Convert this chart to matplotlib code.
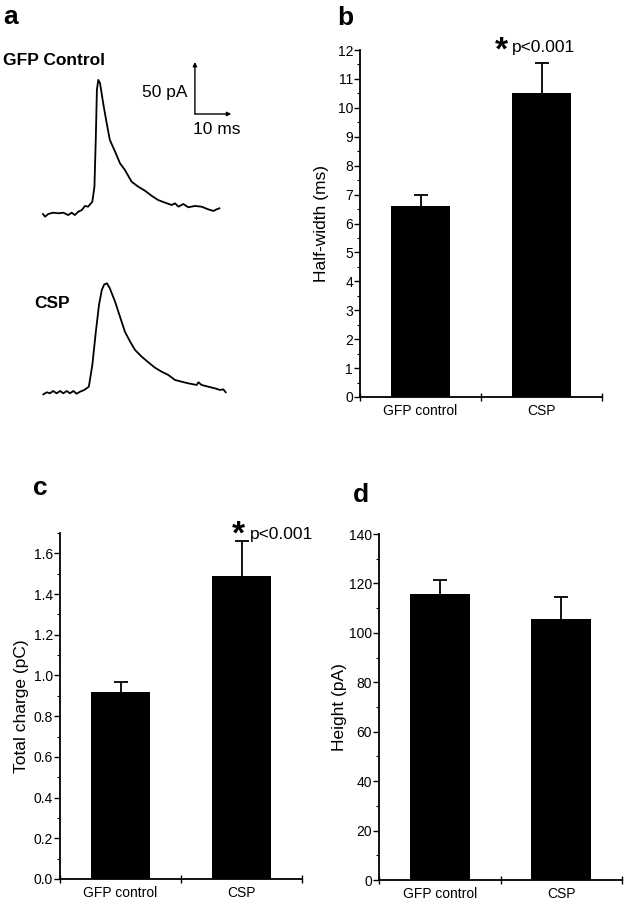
import numpy as np
import matplotlib.pyplot as plt
from matplotlib.ticker import MultipleLocator

plt.rcParams['font.family'] = ['Liberation Sans', 'DejaVu Sans']

# ---- panel a traces (time in ms, current in pA above baseline) ----
t_gfp = [0, 0.6, 1.5, 2.9, 4.4, 5.8, 7.2, 8.2, 9.1, 10.1, 11.1, 12.0, 12.9, 14.1,
         14.7, 15.1, 15.4, 15.8, 16.3, 17.2, 18.2, 19.1, 20.6, 22.0, 23.4, 25.3,
         27.2, 29.1, 31.1, 32.9, 34.9, 36.8, 37.7, 38.7, 40.1, 41.5, 43.4, 45.3,
         47.2, 48.7, 49.6, 50.4]
i_gfp = [-1, -3.6, -1, 0.3, -0.3, 0.3, -2, 0.3, -2, 1.3, 2.9, 6.9, 6.2, 11.1,
         25.8, 74.8, 120.6, 130.4, 127.2, 107.5, 87.9, 71.6, 60.1, 48.7, 42.2, 30.7,
         25.8, 21.9, 16.7, 12.7, 10.1, 7.8, 9.5, 6.2, 8.8, 5.6, 6.9, 6.2,
         3.6, 2.0, 3.6, 4.6]

t_csp = [0.1, 1.1, 2.0, 2.9, 3.9, 4.9, 5.8, 6.8, 7.7, 8.7, 9.6, 10.6, 11.8, 13.1,
         14.1, 15.1, 16.0, 16.8, 17.5, 18.3, 19.1, 20.6, 22.0, 23.4, 24.9, 26.3,
         28.2, 30.1, 32.0, 33.9, 35.8, 37.7, 39.6, 41.5, 43.9, 44.4, 45.3, 47.2,
         49.1, 50.6, 51.5, 52.2]
i_csp = [-1.8, 0.2, -0.8, 1.5, -0.8, 1.5, -0.8, 1.5, -0.8, 1.5, -1.2, 0.8, 2.5, 5.7,
         27.0, 59.6, 85.8, 100.5, 106.0, 107.0, 102.1, 89.0, 74.3, 59.6, 49.8, 41.7,
         35.1, 29.6, 24.3, 20.4, 17.2, 12.3, 10.6, 9.0, 7.4, 10.0, 7.4, 5.7,
         4.1, 2.5, 3.1, 0.2]

scale_t = 10   # ms
scale_i = 50   # pA

# ---- bar panels ----
groups = ['GFP control', 'CSP']
halfwidth_mean = [6.6, 10.5]
halfwidth_err = [0.37, 1.05]
charge_mean = [0.92, 1.49]
charge_err = [0.05, 0.17]
height_mean = [115.6, 105.8]
height_err = [5.7, 8.6]

W, H = 626, 900


def fx(x):
    return x / W


def fy(y):
    return 1 - y / H


fig = plt.figure(figsize=(W / 100, H / 100), dpi=100)

# traces, both axes share the same ms/pA scale
axg = fig.add_axes([fx(30), fy(225), fx(220), 170 / H])
axg.plot(t_gfp, i_gfp, color='black', lw=1.3)
axg.set_xlim(-3.71, 59.14)
axg.set_ylim(-11.76, 154.8)
axg.axis('off')
bx, by = 43.4, 97
axg.annotate('', xy=(bx, by + scale_i + 1), xytext=(bx, by),
             arrowprops=dict(arrowstyle='-|>', lw=1, color='black', mutation_scale=6,
                             shrinkA=0, shrinkB=0))
axg.annotate('', xy=(bx + scale_t + 0.4, by), xytext=(bx, by),
             arrowprops=dict(arrowstyle='-|>', lw=1, color='black', mutation_scale=6,
                             shrinkA=0, shrinkB=0))

axc_tr = fig.add_axes([fx(30), fy(400), fx(220), 125 / H])
axc_tr.plot(t_csp, i_csp, color='black', lw=1.3)
axc_tr.set_xlim(-3.71, 59.14)
axc_tr.set_ylim(-7.35, 115.2)
axc_tr.axis('off')

fig.text(fx(187), fy(93), '50 pA', fontsize=12.5, ha='right', va='center')
fig.text(fx(193), fy(130), '10 ms', fontsize=12.5, ha='left', va='center')
fig.text(fx(3), fy(65), 'GFP Control', fontsize=12.5, fontweight='bold', va='baseline')
fig.text(fx(34), fy(308), 'CSP', fontsize=12.5, fontweight='bold', va='baseline')


def bar_panel(rect, means, errs, ylim, major, minor, ylabel):
    ax = fig.add_axes(rect)
    xpos = [0.5, 1.5]
    ax.bar(xpos, means, width=0.49, color='black')
    eb = ax.errorbar(xpos, means, yerr=[[0, 0], errs], fmt='none', ecolor='black',
                     elinewidth=1.3, capsize=4.7, capthick=1.3)
    # only the upper cap is drawn in the original
    for cap in eb[1]:
        if np.allclose(cap.get_ydata(), means):
            cap.set_visible(False)
    ax.set_xlim(0, 2)
    ax.set_ylim(*ylim)
    ax.spines['top'].set_visible(False)
    ax.spines['right'].set_visible(False)
    ax.spines['left'].set_linewidth(1.3)
    ax.spines['bottom'].set_linewidth(1.3)
    ax.set_xticks([0, 1, 2])
    ax.set_xticklabels([])
    ax.set_xticks(xpos, minor=True)
    ax.set_xticklabels(groups, minor=True)
    ax.tick_params(axis='x', which='major', direction='inout', length=6, width=1)
    ax.tick_params(axis='x', which='minor', length=0, labelsize=10, pad=5)
    ax.yaxis.set_major_locator(MultipleLocator(major))
    ax.yaxis.set_minor_locator(MultipleLocator(minor))
    ax.tick_params(axis='y', which='major', direction='out', length=4, width=1,
                   labelsize=10, pad=1)
    ax.tick_params(axis='y', which='minor', direction='out', length=2, width=0.8)
    ax.set_ylabel(ylabel, fontsize=12.5)
    ax.yaxis.set_label_coords(-0.13, 0.5)
    return ax


axb = bar_panel([fx(360), fy(397), fx(242), 347 / H], halfwidth_mean, halfwidth_err,
                (0, 12), 1, 0.5, 'Half-width (ms)')
axb.yaxis.set_major_formatter(plt.FormatStrFormatter('%d'))
axb.text(1.17, 11.95, '*', fontsize=24, fontweight='bold', ha='center', va='center',
         clip_on=False)
axb.text(1.256, 12.07, 'p<0.001', fontsize=12.5, ha='left', va='center', clip_on=False)

axc = bar_panel([fx(60), fy(879), fx(242), 346 / H], charge_mean, charge_err,
                (0, 1.7), 0.2, 0.1, 'Total charge (pC)')
axc.yaxis.set_major_formatter(plt.FormatStrFormatter('%.1f'))
axc.text(1.471, 1.69, '*', fontsize=24, fontweight='bold', ha='center', va='center',
         clip_on=False)
axc.text(1.57, 1.694, 'p<0.001', fontsize=12.5, ha='left', va='center', clip_on=False)

axd = bar_panel([fx(379), fy(880), fx(243), 346 / H], height_mean, height_err,
                (0, 140), 20, 10, 'Height (pA)')

for lab, x, y in [('a', 3, 24), ('b', 337, 25), ('c', 33, 495), ('d', 353, 502)]:
    fig.text(fx(x), fy(y), lab, fontsize=19, fontweight='bold', va='baseline')

fig.savefig('out.png', dpi=100)
